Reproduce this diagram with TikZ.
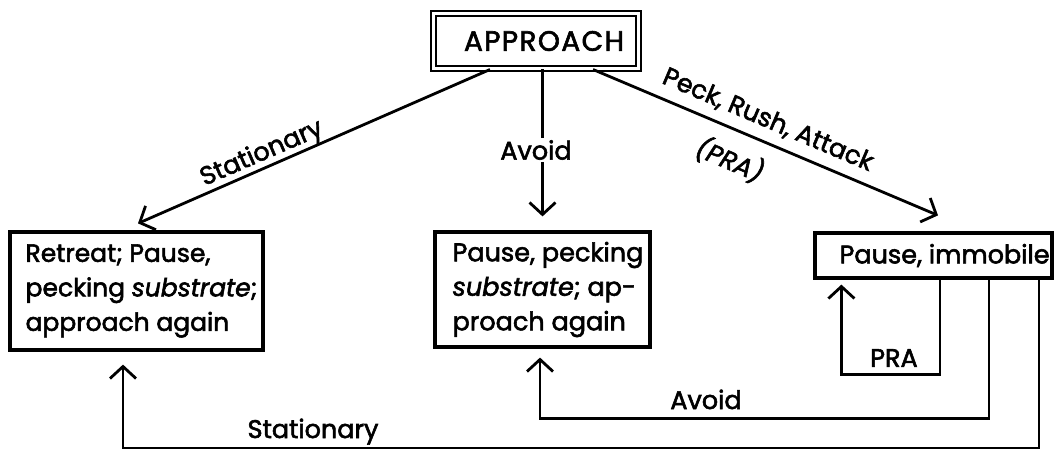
\documentclass[tikz,border=0pt]{standalone}
\usepackage{fontspec}
\setmainfont{Poppins}[FakeBold=2.2]
\newfontfamily\widefont{Poppins}[FakeBold=2.2, LetterSpace=5]
\usetikzlibrary{arrows.meta}
\begin{document}
\begin{tikzpicture}[x=1pt,y=-1pt,
  every node/.style={font=\fontsize{25.5}{34.5}\selectfont, inner sep=1pt},
  boxframe/.style={draw, line width=3.2pt, inner sep=0pt},
  conn/.style={line width=2.8pt, -{Straight Barb[length=12pt,width=26pt]}},
  wlabel/.style={fill=white, inner sep=2pt}]
\useasboundingbox[fill=white] (0,0) rectangle (1054,449);

% boxes
\node[boxframe, double, double distance=2.5pt, line width=2pt,
      minimum width=205pt, minimum height=55pt,
      font=\widefont\fontsize{28}{34}\selectfont] (approach) at (536,41) {\hspace*{16pt}APPROACH};
\node[boxframe, minimum width=253pt, minimum height=118pt] (left) at (136.5,291) {};
\node[anchor=west, align=left, font=\fontsize{25}{34.5}\selectfont] (lefttext) at ([xshift=16pt]left.west)
  {Retreat; Pause,\\pecking \textit{substrate};\\approach again};
\node[boxframe, minimum width=215pt, minimum height=115pt] (mid) at (542.5,289.5) {};
\node[anchor=west, align=left] (midtext) at ([xshift=18pt]mid.west)
  {Pause, pecking\\\textit{substrate}; ap-\\proach again};
\node[boxframe, minimum width=237pt, minimum height=45pt] (right) at (933.5,255.5) {};
\node[anchor=west] (righttext) at ([xshift=25pt]right.west) {Pause, immobile};

% diagonal / vertical connectors from APPROACH
\draw[conn] ([xshift=-46pt]approach.south) -- ([xshift=1.5pt,yshift=7pt]left.north);
\node[rotate=23.5] (lstat) at (262,154) {Stationary};
\draw[conn] (approach.south -| mid.north) -- ([yshift=14pt]mid.north);
\node[wlabel] (lavoid) at (536,150) {Avoid};
\draw[conn] ([xshift=57pt]approach.south) -- ([xshift=4.5pt,yshift=16pt]right.north);
\node[rotate=-23] (lpeck) at (768,120) {Peck, Rush, Attack};
\node[rotate=-23] (lpra) at (730,160) {\textit{(PRA)}};

% return loops
\draw[conn] ([xshift=6.5pt]right.south) -- ++(0,95) -| ([xshift=28pt,yshift=-5pt]right.south west);
\node (lpraloop) at (894,358) {PRA};
\draw[conn] ([xshift=55.5pt]right.south) -- ++(0,139) -| ([xshift=-2.5pt,yshift=-9pt]mid.south);
\node[anchor=base] (lavoid2) at (706,409) {Avoid};
\draw[conn] ([xshift=105.5pt]right.south) -- ++(0,169) -| ([xshift=-13.5pt,yshift=-13pt]left.south);
\node[anchor=base] (lstat2) at (313,438) {Stationary};
\end{tikzpicture}
\end{document}
